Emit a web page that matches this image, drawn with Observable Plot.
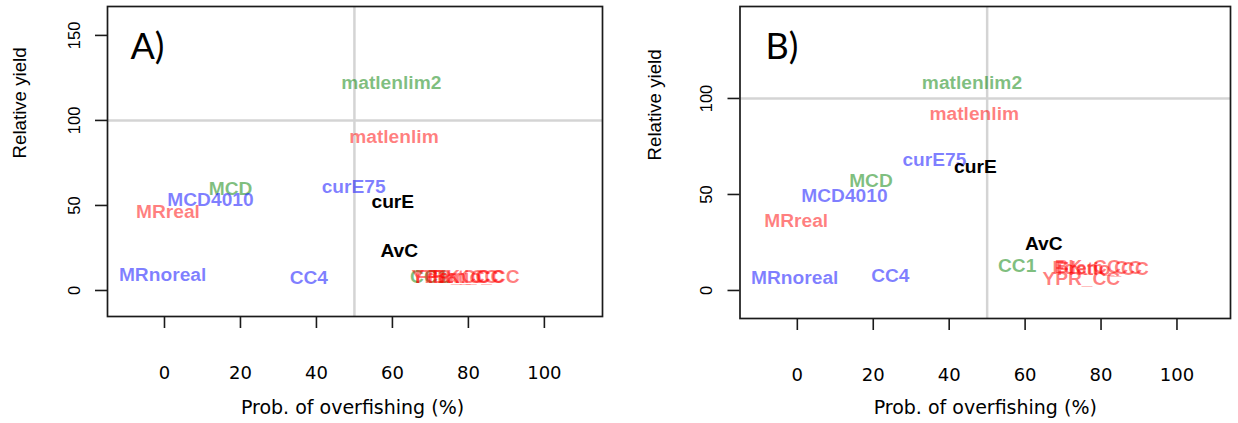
<!DOCTYPE html>
<html><head><meta charset="utf-8">
<script src="https://cdn.jsdelivr.net/npm/d3@7"></script>
<script src="https://cdn.jsdelivr.net/npm/@observablehq/plot@0.6"></script>
<style>
html,body{margin:0;padding:0;background:#fff;}
#wrap{display:flex;width:1238px;height:423px;overflow:hidden;}
#wrap svg{display:block;flex:none;}
</style></head><body><div id="wrap"></div>
<script>
// ---- data ----
const methods = ["matlenlim2","matlenlim","curE75","curE","MCD","MCD4010","MRreal","MRnoreal","CC4","AvC","CC1","YPR_CC","BK_CC","Fdem_CC","Fratio_CC"];
const groups  = ["green","red","blue","black","green","blue","red","blue","blue","black","green","red","red","red","red"];
// Panel A
const overfishA = [59.7, 60.4, 49.8, 60.1, 17.4, 12.1, 0.9, -0.5, 38.0, 61.8, 69.7, 75.3, 79.2, 77.7, 81.4];
const yieldA    = [122.0, 90.2, 60.8, 51.9, 59.8, 53.5, 46.5, 9.4, 7.5, 23.1, 8.3, 8.2, 8.2, 8.0, 8.2];
// Panel B
const overfishB = [46.0, 46.6, 36.1, 46.9, 19.4, 12.4, -0.3, -0.7, 24.5, 64.9, 57.9, 74.8, 76.5, 79.0, 80.5];
const yieldB    = [107.9, 92.0, 67.9, 64.2, 57.2, 49.3, 36.1, 6.7, 7.5, 24.3, 12.8, 6.3, 12.5, 12.0, 11.5];

const panelLabels = ["A)", "B)"];
const xTicks  = [0, 20, 40, 60, 80, 100];
const yTicksA = [0, 50, 100, 150];
const yTicksB = [0, 50, 100];
const refX = 50, refY = 100;
const xTitle = "Prob. of overfishing (%)";
const yTitle = "Relative yield";
const groupDomain = ["red", "green", "blue", "black"];
const groupColors = ["#f00000", "#1fd01f", "#0000e6", "#000000"];
const arial = "'Liberation Sans', Arial, sans-serif";

function panel(o) {
  const data = methods.map((m, i) => ({name: m, group: groups[i], x: o.xs[i], y: o.ys[i]}));
  return Plot.plot({
    width: 619, height: 423,
    marginLeft: o.ml, marginRight: o.mr, marginTop: 6, marginBottom: o.mb,
    style: {fontFamily: "'DejaVu Sans', sans-serif", background: "#fff", color: "#000", overflow: "visible"},
    x: {domain: o.xDomain},
    y: {domain: o.yDomain},
    color: {domain: groupDomain, range: groupColors},
    marks: [
      Plot.ruleX([refX], {stroke: "#d4d4d4", strokeWidth: 2.5}),
      Plot.ruleY([refY], {stroke: "#d4d4d4", strokeWidth: 2.5}),
      Plot.text(data.filter(d => d.group !== "black"), {x: "x", y: "y", text: "name", fill: "group", fillOpacity: 0.5, fontSize: 19.2, fontWeight: "bold", fontFamily: arial, lineAnchor: "middle"}),
      Plot.text(data.filter(d => d.group === "black"), {x: "x", y: "y", text: "name", fill: "group", fontSize: 19.2, fontWeight: "bold", fontFamily: arial, lineAnchor: "middle"}),
      Plot.frame({stroke: "#1a1a1a", strokeWidth: 1.7}),
      Plot.axisX(xTicks, {tickSize: 12, tickPadding: 38, fontSize: 18, label: null, strokeWidth: 1.6, stroke: "#1a1a1a"}),
      Plot.axisY(o.yTicks, {tickSize: 12, tickPadding: 16, tickRotate: -90, fontSize: 16.5, fontFamily: arial, label: null, strokeWidth: 1.6, stroke: "#1a1a1a"}),
      Plot.text([xTitle], {text: d => d, frameAnchor: "bottom", dx: o.xtDx, dy: o.xtDy, fontSize: 19, lineAnchor: "middle"}),
      Plot.text([yTitle], {text: d => d, frameAnchor: "left", rotate: -90, dx: o.ytDx, dy: o.ytDy, fontSize: 18.7, lineAnchor: "middle", fontFamily: arial}),
      Plot.text([o.label], {text: d => d, frameAnchor: "top-left", textAnchor: "start", lineAnchor: "top", dx: o.lDx, dy: 27, fontSize: 36, fontFamily: "Lato, 'Open Sans', sans-serif"})
    ]
  });
}

const wrap = document.getElementById("wrap");
wrap.append(panel({
  xs: overfishA, ys: yieldA, label: panelLabels[0],
  xDomain: [-15, 115.3], yDomain: [-15.3, 167], yTicks: yTicksA,
  ml: 107, mr: 17, mb: 107,
  xtDx: -2.5, xtDy: 91, ytDx: -87, ytDy: -3, lDx: 23
}));
wrap.append(panel({
  xs: overfishB, ys: yieldB, label: panelLabels[1],
  xDomain: [-15.1, 114.1], yDomain: [-14.6, 147.9], yTicks: yTicksB,
  ml: 120.5, mr: 8, mb: 105,
  xtDx: 0, xtDy: 89, ytDx: -85, ytDy: -2, lDx: 25.5
}));
</script></body></html>
